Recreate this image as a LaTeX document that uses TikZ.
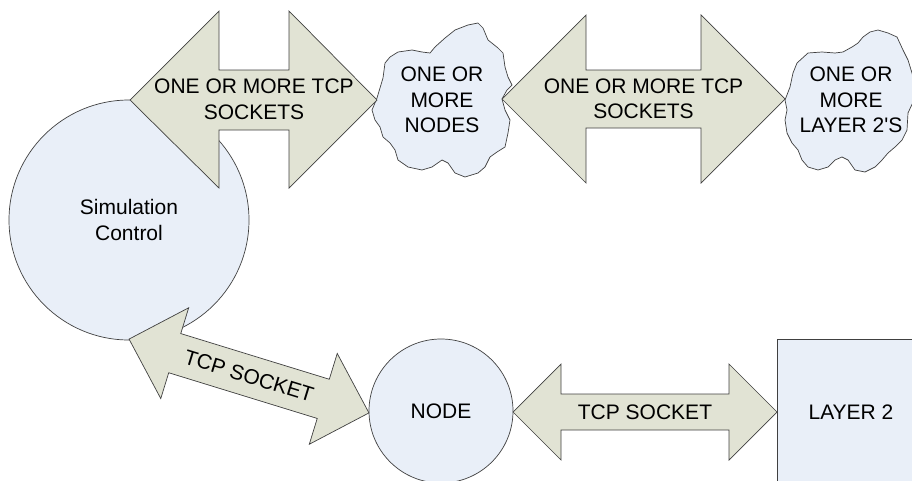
\documentclass[tikz,border=0pt]{standalone}
\usepackage{fontspec}
\setmainfont{Liberation Sans}
\newfontfamily\plainfont{Liberation Sans}
\definecolor{arrowfill}{RGB}{225,227,212}
\definecolor{bluefill}{RGB}{233,239,248}
\definecolor{linegray}{RGB}{64,64,64}
\begin{document}
\begin{tikzpicture}[x=1pt,y=-1pt,
  shapeline/.style={draw=linegray, line width=0.7pt, line join=miter},
  arrowshape/.style={shapeline, fill=arrowfill},
  blueshape/.style={shapeline, fill=bluefill},
  lbl/.style={font=\plainfont\fontsize{21}{25.5}\selectfont, align=center, inner sep=0pt, text=black}]
\useasboundingbox (0,0) rectangle (912,480);
\clip (0,0) rectangle (912,480);

% Simulation Control circle
\node[blueshape, circle, minimum size=240pt, inner sep=0pt, lbl] (sim) at (129,220) {Simulation\\Control};

% Cloud 1
\draw[blueshape] (377,98) -- (383,78) -- (385,63) -- (390,57) -- (398,52) -- (412,50) -- (422,52) -- (430,53)
  -- (435,47) -- (445,38) -- (455,30) -- (468,25) -- (478,23) -- (483,28) -- (488,40) -- (498,48) -- (503,53)
  -- (505,67) -- (508,77) -- (512,85) -- (507,90) -- (502,99) -- (505,110) -- (510,120) -- (508,133) -- (505,147)
  -- (497,152) -- (490,157) -- (485,167) -- (478,173) -- (465,177) -- (455,173) -- (448,163) -- (442,160)
  -- (432,167) -- (422,170) -- (408,167) -- (398,160) -- (395,150) -- (390,143) -- (383,137) -- (380,127)
  -- (375,120) -- (372,110) -- cycle;
\node[lbl] (nodes) at (442,100) {ONE OR\\MORE\\NODES};

% Cloud 2
\draw[blueshape] (785,100) -- (790,87) -- (793,73) -- (797,63) -- (808,53) -- (822,52) -- (835,53) -- (843,52)
  -- (852,47) -- (858,43) -- (863,37) -- (870,32) -- (878,30) -- (888,33) -- (897,37) -- (903,50) -- (908,60)
  -- (912,73) -- (916,90) -- (914,100) -- (908,113) -- (907,130) -- (902,140) -- (895,147) -- (888,153)
  -- (882,160) -- (875,167) -- (865,172) -- (855,170) -- (848,160) -- (842,157) -- (835,160) -- (828,167)
  -- (818,170) -- (808,167) -- (802,160) -- (798,150) -- (792,143) -- (787,133) -- (785,120) -- (787,110) -- cycle;
\node[lbl] (layers) at (851,100) {ONE OR\\MORE\\LAYER 2'S};

% Arrow 1
\draw[arrowshape] (130,100) -- (219,11) -- (219,70) -- (289,70) -- (289,11) -- (377,100)
  -- (289,188) -- (289,130) -- (219,130) -- (219,188) -- cycle;
\node[lbl] (a1) at (254,99.5) {ONE OR MORE TCP\\SOCKETS};

% Arrow 2
\draw[arrowshape] (502,99) -- (586,15) -- (586,70) -- (701,70) -- (701,15) -- (785,99)
  -- (701,183) -- (701,128) -- (586,128) -- (586,183) -- cycle;
\node[lbl] (a2) at (643.5,99) {ONE OR MORE TCP\\SOCKETS};

% NODE circle
\node[blueshape, circle, minimum size=144pt, inner sep=0pt, lbl] (node) at (441,411) {NODE};

% LAYER 2 box
\draw[blueshape] (777,339) rectangle (940,500);
\node[lbl] (layer2) at (851,412) {LAYER 2};

% Arrow 3
\draw[arrowshape] (513,412) -- (561,364) -- (561,394) -- (729,394) -- (729,364) -- (777,412)
  -- (729,460) -- (729,430) -- (561,430) -- (561,460) -- cycle;
\node[lbl] (a3) at (645,412) {TCP SOCKET};

% Diagonal arrow
\begin{scope}[shift={(249,376)}, rotate=-17.1]
\draw[arrowshape] (-125.5,0) -- (-77.7,-47.5) -- (-77.7,-20.5) -- (77.7,-20.5) -- (77.7,-47.5) -- (125.5,0)
  -- (77.7,47.5) -- (77.7,20.5) -- (-77.7,20.5) -- (-77.7,47.5) -- cycle;
\node[lbl, rotate=-17.1] (a4) at (0,0) {TCP SOCKET};
\end{scope}
\end{tikzpicture}
\end{document}
